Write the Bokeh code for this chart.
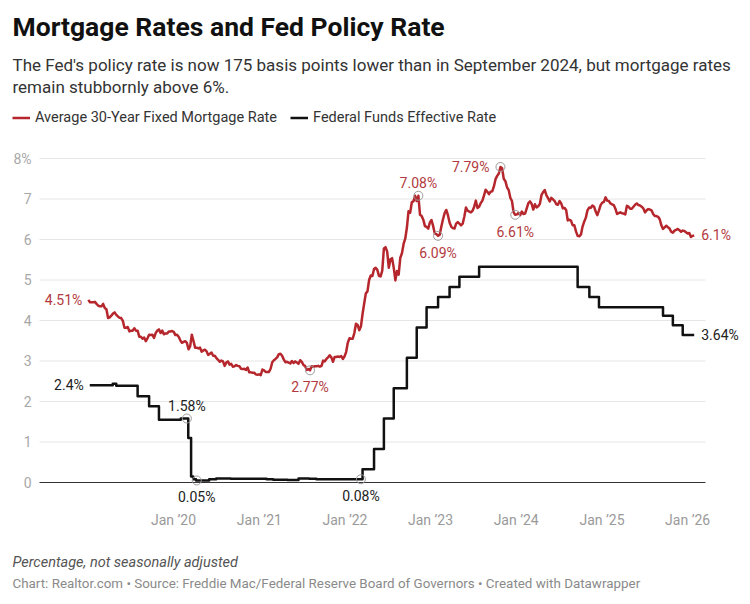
import pandas as pd
from bokeh.plotting import figure
from bokeh.models import (ColumnDataSource, Legend, LegendItem, Label,
                          FixedTicker, Range1d, CustomJSTickFormatter)
from bokeh.core.properties import value
from bokeh.embed import file_html
from bokeh.resources import INLINE

# ---------------- data ----------------
# Freddie Mac 30-year fixed, weekly (Thursdays) starting 2019-01-03
mortgage_start = "2019-01-03"
mort_2019 = [4.51, 4.45, 4.45, 4.45, 4.46, 4.41, 4.37, 4.35, 4.35, 4.41, 4.31, 4.28, 4.06,
             4.08, 4.12, 4.17, 4.20, 4.14, 4.10, 4.07, 4.06, 3.99, 3.82, 3.82, 3.84, 3.73,
             3.75, 3.75, 3.81, 3.75, 3.75, 3.60, 3.60, 3.55, 3.58, 3.49, 3.56, 3.65, 3.64,
             3.65, 3.57, 3.69, 3.75, 3.78, 3.69, 3.75, 3.66, 3.68, 3.68, 3.73, 3.73, 3.74]
mort_2020 = [3.72, 3.64, 3.65, 3.60, 3.51, 3.45, 3.47, 3.49, 3.45, 3.29, 3.36, 3.65, 3.50,
             3.33, 3.33, 3.31, 3.33, 3.23, 3.26, 3.28, 3.24, 3.15, 3.18, 3.21, 3.13, 3.13,
             3.07, 3.03, 2.98, 3.01, 2.99, 2.88, 2.96, 2.99, 2.91, 2.93, 2.86, 2.87, 2.90,
             2.88, 2.87, 2.81, 2.80, 2.81, 2.78, 2.84, 2.72, 2.72, 2.71, 2.71, 2.67, 2.66, 2.67]
mort_2021 = [2.65, 2.79, 2.77, 2.73, 2.73, 2.73, 2.81, 2.97, 3.02, 3.05, 3.09, 3.17,
             3.18, 3.13, 3.04, 2.97, 2.98, 2.96, 2.94, 3.00, 2.95, 2.99, 2.96, 2.93, 3.02,
             2.98, 2.90, 2.88, 2.78, 2.80, 2.77, 2.87, 2.86, 2.87, 2.87, 2.88, 2.86, 2.88, 3.01,
             2.99, 3.05, 3.09, 3.14, 3.09, 2.98, 3.10, 3.10, 3.11, 3.10, 3.12, 3.05, 3.11]
mort_2022 = [3.22, 3.45, 3.56, 3.55, 3.55, 3.69, 3.92, 3.89, 3.76, 3.85, 4.16, 4.42, 4.67,
             4.72, 5.00, 5.11, 5.10, 5.27, 5.30, 5.25, 5.10, 5.09, 5.23, 5.78, 5.81, 5.70,
             5.30, 5.51, 5.54, 5.30, 4.99, 5.22, 5.13, 5.55, 5.66, 5.89, 6.02, 6.29, 6.70,
             6.66, 6.92, 6.94, 7.08, 6.95, 7.08, 6.61, 6.58, 6.49, 6.33, 6.31, 6.27, 6.42]
mort_2023 = [6.48, 6.33, 6.15, 6.13, 6.09, 6.12, 6.32, 6.50, 6.65, 6.73, 6.60, 6.42, 6.32,
             6.28, 6.27, 6.39, 6.43, 6.39, 6.35, 6.39, 6.57, 6.79, 6.71, 6.69, 6.67, 6.71,
             6.81, 6.96, 6.78, 6.81, 6.90, 6.96, 7.09, 7.23, 7.18, 7.12, 7.18, 7.19, 7.31,
             7.49, 7.57, 7.63, 7.79, 7.76, 7.50, 7.44, 7.29, 7.22, 7.03, 6.95, 6.67, 6.61]
mort_2024 = [6.62, 6.66, 6.60, 6.69, 6.63, 6.64, 6.77, 6.90, 6.94, 6.88, 6.74, 6.87, 6.79,
             6.82, 6.88, 7.10, 7.17, 7.22, 7.09, 7.02, 6.94, 7.03, 6.99, 6.95, 6.87, 6.86,
             6.95, 6.89, 6.77, 6.78, 6.73, 6.47, 6.49, 6.46, 6.35, 6.35, 6.20, 6.09, 6.08,
             6.12, 6.32, 6.44, 6.54, 6.72, 6.79, 6.78, 6.84, 6.81, 6.69, 6.60, 6.72, 6.85]
mort_2025 = [6.91, 6.93, 7.04, 6.96, 6.95, 6.89, 6.87, 6.85, 6.76, 6.63, 6.65, 6.67, 6.65,
             6.64, 6.62, 6.83, 6.81, 6.76, 6.76, 6.81, 6.86, 6.89, 6.85, 6.84, 6.81, 6.77,
             6.67, 6.72, 6.75, 6.74, 6.72, 6.63, 6.58, 6.58, 6.56, 6.50, 6.35, 6.26, 6.30,
             6.34, 6.30, 6.27, 6.19, 6.17, 6.22, 6.24, 6.26, 6.23, 6.19, 6.22, 6.21, 6.18]
mort_2026 = [6.15, 6.16, 6.06, 6.09, 6.10]
mortgage_rates = mort_2019 + mort_2020 + mort_2021 + mort_2022 + mort_2023 + mort_2024 + mort_2025 + mort_2026

# Federal funds effective rate: level from each date on
fed_dates = ["2019-01-09", "2019-04-17", "2019-05-02", "2019-08-01", "2019-09-19", "2019-10-31",
             "2020-02-01", "2020-03-04", "2020-03-16", "2020-03-25", "2020-04-06", "2020-06-01",
             "2020-07-01", "2020-09-01", "2021-02-01", "2021-03-01", "2021-05-01", "2021-06-17",
             "2021-08-01", "2021-09-01", "2022-03-17", "2022-05-05", "2022-06-16", "2022-07-28",
             "2022-09-22", "2022-11-03", "2022-12-15", "2023-02-02", "2023-03-23", "2023-05-04",
             "2023-07-27", "2024-09-19", "2024-11-08", "2024-12-19", "2025-09-18", "2025-10-30",
             "2025-12-11", "2026-01-29"]
fed_rates = [2.40, 2.44, 2.39, 2.13, 1.88, 1.55,
             1.58, 1.10, 0.15, 0.08, 0.05, 0.08,
             0.10, 0.09, 0.08, 0.07, 0.06, 0.10,
             0.09, 0.08, 0.33, 0.83, 1.58, 2.33,
             3.08, 3.83, 4.33, 4.58, 4.83, 5.08,
             5.33, 4.83, 4.58, 4.33, 4.12, 3.88,
             3.64, 3.64]

# highlighted points
mort_ann_dates = ["2021-08-05", "2022-11-10", "2023-02-02", "2023-10-26", "2023-12-28"]
fed_ann_dates = ["2020-02-27", "2020-04-09", "2022-03-10"]
fed_ann_values = [1.58, 0.05, 0.08]

year_ticks = [2020, 2021, 2022, 2023, 2024, 2025, 2026]
y_ticks = [0, 1, 2, 3, 4, 5, 6, 7, 8]

title = "Mortgage Rates and Fed Policy Rate"
subtitle_1 = "The Fed's policy rate is now 175 basis points lower than in September 2024, but mortgage rates"
subtitle_2 = "remain stubbornly above 6%."
legend_labels = ["Average 30-Year Fixed Mortgage Rate", "Federal Funds Effective Rate"]
note = "Percentage, not seasonally adjusted"
credit = "Chart: Realtor.com \u2022 Source: Freddie Mac/Federal Reserve Board of Governors  \u2022 Created with Datawrapper"

# ---------------- build ----------------
RED = "#b6272d"
RED_TXT = "#b23a3e"
BLACK = "#111111"
FONT = "Roboto"

mort_dates = pd.date_range(mortgage_start, periods=len(mortgage_rates), freq="7D")
mort_src = ColumnDataSource(dict(x=mort_dates, y=mortgage_rates))
fed_src = ColumnDataSource(dict(x=pd.to_datetime(fed_dates), y=fed_rates))

def fmt(v):
    return f"{v:g}%"

mort_lookup = dict(zip(mort_dates.strftime("%Y-%m-%d"), mortgage_rates))
mort_ann_values = [mort_lookup[d] for d in mort_ann_dates]

# layout (pixels); the frame covers the whole canvas, axes are pinned inside it
W, H = 748, 602
AX_L, GRID_R, AX_B = 39, 705, 505         # y-axis position, gridline end, x-axis position
X0_PX, PX_PER_YEAR = 173, 85.67           # Jan 2020 position, scale
Y0_PX, PX_PER_UNIT = 482, 40.5            # 0% position, scale

jan2020 = pd.Timestamp("2020-01-01")
def px_to_date(px):
    return jan2020 + pd.Timedelta(days=(px - X0_PX) / PX_PER_YEAR * 365.25)
def px_to_val(py):
    return (Y0_PX - py) / PX_PER_UNIT
def ms(ts):
    return ts.value / 1e6

p = figure(width=W, height=H, output_backend="svg", toolbar_location=None,
           x_axis_type="datetime",
           x_range=Range1d(px_to_date(0), px_to_date(W)),
           y_range=Range1d(px_to_val(H), px_to_val(0)),
           min_border=0)
p.outline_line_color = None
p.background_fill_color = "white"
p.border_fill_color = "white"
p.xgrid.grid_line_color = None
p.ygrid.grid_line_color = None

# gridlines limited to the chart body
grid_src = ColumnDataSource(dict(
    x0=[px_to_date(AX_L)] * len(y_ticks), x1=[px_to_date(GRID_R)] * len(y_ticks), y=y_ticks,
    c=["#333333" if t == 0 else "#e6e6e6" for t in y_ticks]))
p.segment("x0", "y", "x1", "y", source=grid_src, line_color="c", line_width=1)

# axes (pinned at fixed locations)
p.yaxis.fixed_location = ms(px_to_date(AX_L))
p.yaxis.ticker = FixedTicker(ticks=y_ticks)
p.yaxis.formatter = CustomJSTickFormatter(code="return tick == 8 ? '8%' : String(tick);")
p.yaxis.axis_line_color = None
p.yaxis.major_tick_line_color = None
p.yaxis.minor_tick_line_color = None
p.yaxis.major_tick_out = 0
p.yaxis.major_tick_in = 0
p.yaxis.major_label_standoff = 8
p.yaxis.major_label_text_font = FONT
p.yaxis.major_label_text_font_size = "14px"
p.yaxis.major_label_text_color = "#a8a8a8"

xt = [ms(pd.Timestamp(f"{y}-01-01")) for y in year_ticks]
p.xaxis.fixed_location = px_to_val(AX_B)
p.xaxis.ticker = FixedTicker(ticks=xt)
p.xaxis.formatter = CustomJSTickFormatter(
    code="const d = new Date(tick); return 'Jan \u2019' + String(d.getUTCFullYear()).slice(2);")
p.xaxis.axis_line_color = None
p.xaxis.major_tick_line_color = None
p.xaxis.minor_tick_line_color = None
p.xaxis.major_tick_out = 0
p.xaxis.major_tick_in = 0
p.xaxis.major_label_standoff = 6
p.xaxis.major_label_text_font = FONT
p.xaxis.major_label_text_font_size = "14px"
p.xaxis.major_label_text_color = "#9a9a9a"

# lines
r_m = p.line("x", "y", source=mort_src, line_color=RED, line_width=2.5, line_join="round")
r_f = p.step("x", "y", source=fed_src, mode="after", line_color=BLACK, line_width=2.5,
             line_join="round")

# highlight circles
circ_src = ColumnDataSource(dict(
    x=list(pd.to_datetime(mort_ann_dates)) + list(pd.to_datetime(fed_ann_dates)),
    y=mort_ann_values + fed_ann_values))
p.scatter("x", "y", source=circ_src, marker="circle", size=9, fill_color=None,
          line_color="#9c9c9c", line_width=1)

# annotation labels
def add_labels(xs, ys, color, align, xo, yo):
    src = ColumnDataSource(dict(x=pd.to_datetime(xs), y=ys, t=[fmt(v) for v in ys]))
    p.text("x", "y", text="t", source=src, text_font=value(FONT), text_font_size="14px",
           text_color=color, text_align=align, text_baseline="middle",
           x_offset=xo, y_offset=yo)

add_labels([mort_ann_dates[0], mort_ann_dates[2], mort_ann_dates[4]],
           [mort_ann_values[0], mort_ann_values[2], mort_ann_values[4]], RED_TXT, "center", 0, 17)
add_labels([mort_ann_dates[1]], [mort_ann_values[1]], RED_TXT, "center", 0, -13)
add_labels([mort_ann_dates[3]], [mort_ann_values[3]], RED_TXT, "right", -11, 0)
add_labels([mort_dates[0]], [mortgage_rates[0]], RED_TXT, "right", -6, 0)
add_labels([mort_dates[-1]], [mortgage_rates[-1]], RED_TXT, "left", 7, 0)
add_labels([fed_ann_dates[0]], [fed_ann_values[0]], "#222222", "center", 0, -13)
add_labels(fed_ann_dates[1:], fed_ann_values[1:], "#222222", "center", 0, 17)
add_labels([fed_dates[0]], [fed_rates[0]], "#222222", "right", -6, 0)
add_labels([fed_dates[-1]], [fed_rates[-1]], "#222222", "left", 7, 0)

# legend (bottom-left corner given in px from the frame's bottom-left)
legend = Legend(items=[LegendItem(label=legend_labels[0], renderers=[r_m]),
                       LegendItem(label=legend_labels[1], renderers=[r_f])],
                orientation="horizontal", location=(12, H - 126),
                padding=0, margin=0, spacing=13, glyph_width=18, glyph_height=17,
                label_height=17, label_standoff=5, border_line_color=None,
                background_fill_alpha=0, label_text_font=FONT,
                label_text_font_size="14.5px", label_text_color="#333333")
p.add_layout(legend)

# header / footer texts: (x, vertical centre y) in page pixels from top-left
def add_text(txt, px, py, size, color, style="normal"):
    p.add_layout(Label(x=px, y=H - py, x_units="screen", y_units="screen",
                       text=txt, text_font=FONT, text_font_size=f"{size}px", text_color=color,
                       text_font_style=style, text_baseline="middle", text_align="left"))

add_text(title, 12, 26, 26.5, "#111111", "bold")
add_text(subtitle_1, 12, 64, 17, "#333333")
add_text(subtitle_2, 12, 86, 17, "#333333")
add_text(note, 12, 562, 14.5, "#555555", "italic")
add_text(credit, 12, 583, 13.4, "#8a8a8a")

open("out.html", "w").write(file_html(p, INLINE))
